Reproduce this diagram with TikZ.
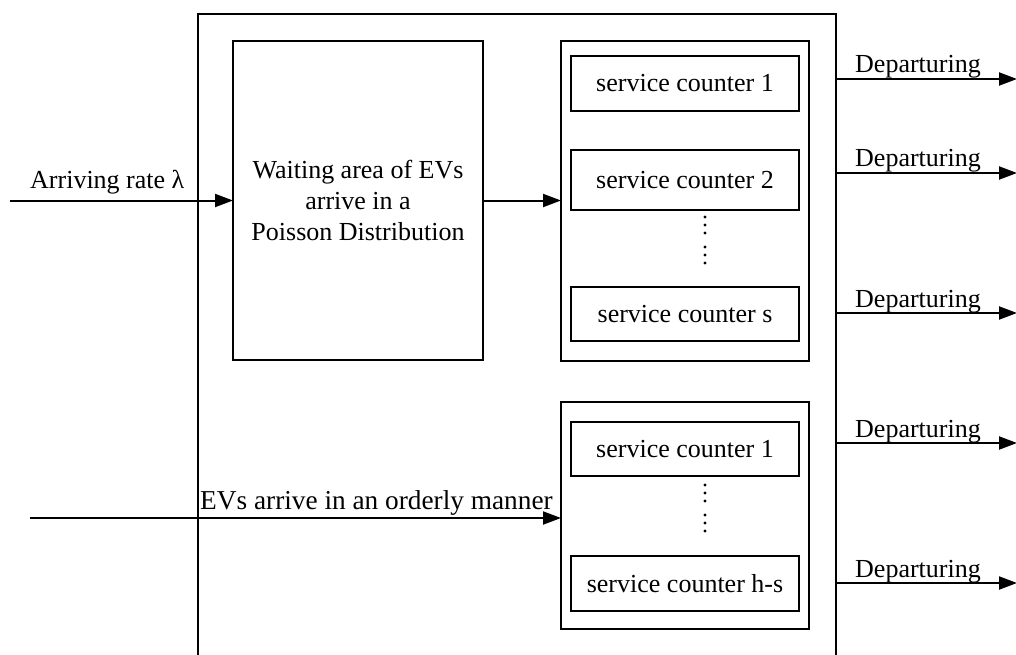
\documentclass[tikz,border=0pt]{standalone}
\usepackage{fontspec}
\setmainfont{Liberation Serif}
\usetikzlibrary{arrows.meta}
\begin{document}
\begin{tikzpicture}[x=1pt,y=-1pt,
  every node/.style={font=\fontsize{26}{31}\selectfont},
  box/.style={draw, line width=2.2pt, inner sep=0pt, outer sep=0pt, align=center},
  lbl/.style={inner sep=0pt, anchor=base west},
  arr/.style={line width=2pt, -{Triangle[length=18pt,width=13pt]}},
  dot/.style={fill, circle, inner sep=0pt, minimum size=3.2pt}]
\useasboundingbox (0,0) rectangle (1016,655);
\clip (0,0) rectangle (1016,655);
% outer system box (open at bottom)
\node[box, minimum width=638pt, minimum height=680pt, line width=2.4pt] (outer) at (517,354) {};
% waiting area
\node[box, minimum width=250pt, minimum height=319pt] (wait) at (358,200.5)
  {Waiting area of EVs\\arrive in a\\Poisson Distribution};
% first group
\node[box, minimum width=248pt, minimum height=320pt] (g1) at (685,201) {};
\node[box, minimum width=228pt, minimum height=55pt] (c1) at (685,83.5) {service counter 1};
\node[box, minimum width=228pt, minimum height=60pt] (c2) at (685,180) {service counter 2};
\node[box, minimum width=228pt, minimum height=54pt] (cs) at (685,314) {service counter s};
\foreach \yy [count=\i] in {217,225,233,247,255,263}
  \node[dot] (da\i) at (705,\yy) {};
% second group
\node[box, minimum width=248pt, minimum height=227pt] (g2) at (685,515.5) {};
\node[box, minimum width=228pt, minimum height=54pt] (d1) at (685,449) {service counter 1};
\node[box, minimum width=228pt, minimum height=55pt] (dhs) at (685,583.5) {service counter h-s};
\foreach \yy [count=\i] in {485,493,501,515,523,531}
  \node[dot] (db\i) at (705,\yy) {};
% inputs
\coordinate (inA) at (10,200.5);
\coordinate (inB) at (30,518);
\draw[arr] (inA) -- (wait.west);
\node[lbl] (la) at (30,189) {Arriving rate λ};
\draw[arr] (wait.east) -- (wait.east -| g1.west);
\draw[arr] (inB) -- (inB -| g2.west);
\node[lbl, font=\fontsize{27.3}{31}\selectfont] (lb) at (200,509) {EVs arrive in an orderly manner};
% departures
\foreach \yy [count=\i] in {79,173,313,443,583}{
  \coordinate (s\i) at (outer.east |- 0,\yy);
  \coordinate (e\i) at (1017,\yy);
  \draw[arr] (s\i) -- (e\i);
  \node[lbl] (dl\i) at (855,\yy-6) {Departuring};
}
\end{tikzpicture}
\end{document}
